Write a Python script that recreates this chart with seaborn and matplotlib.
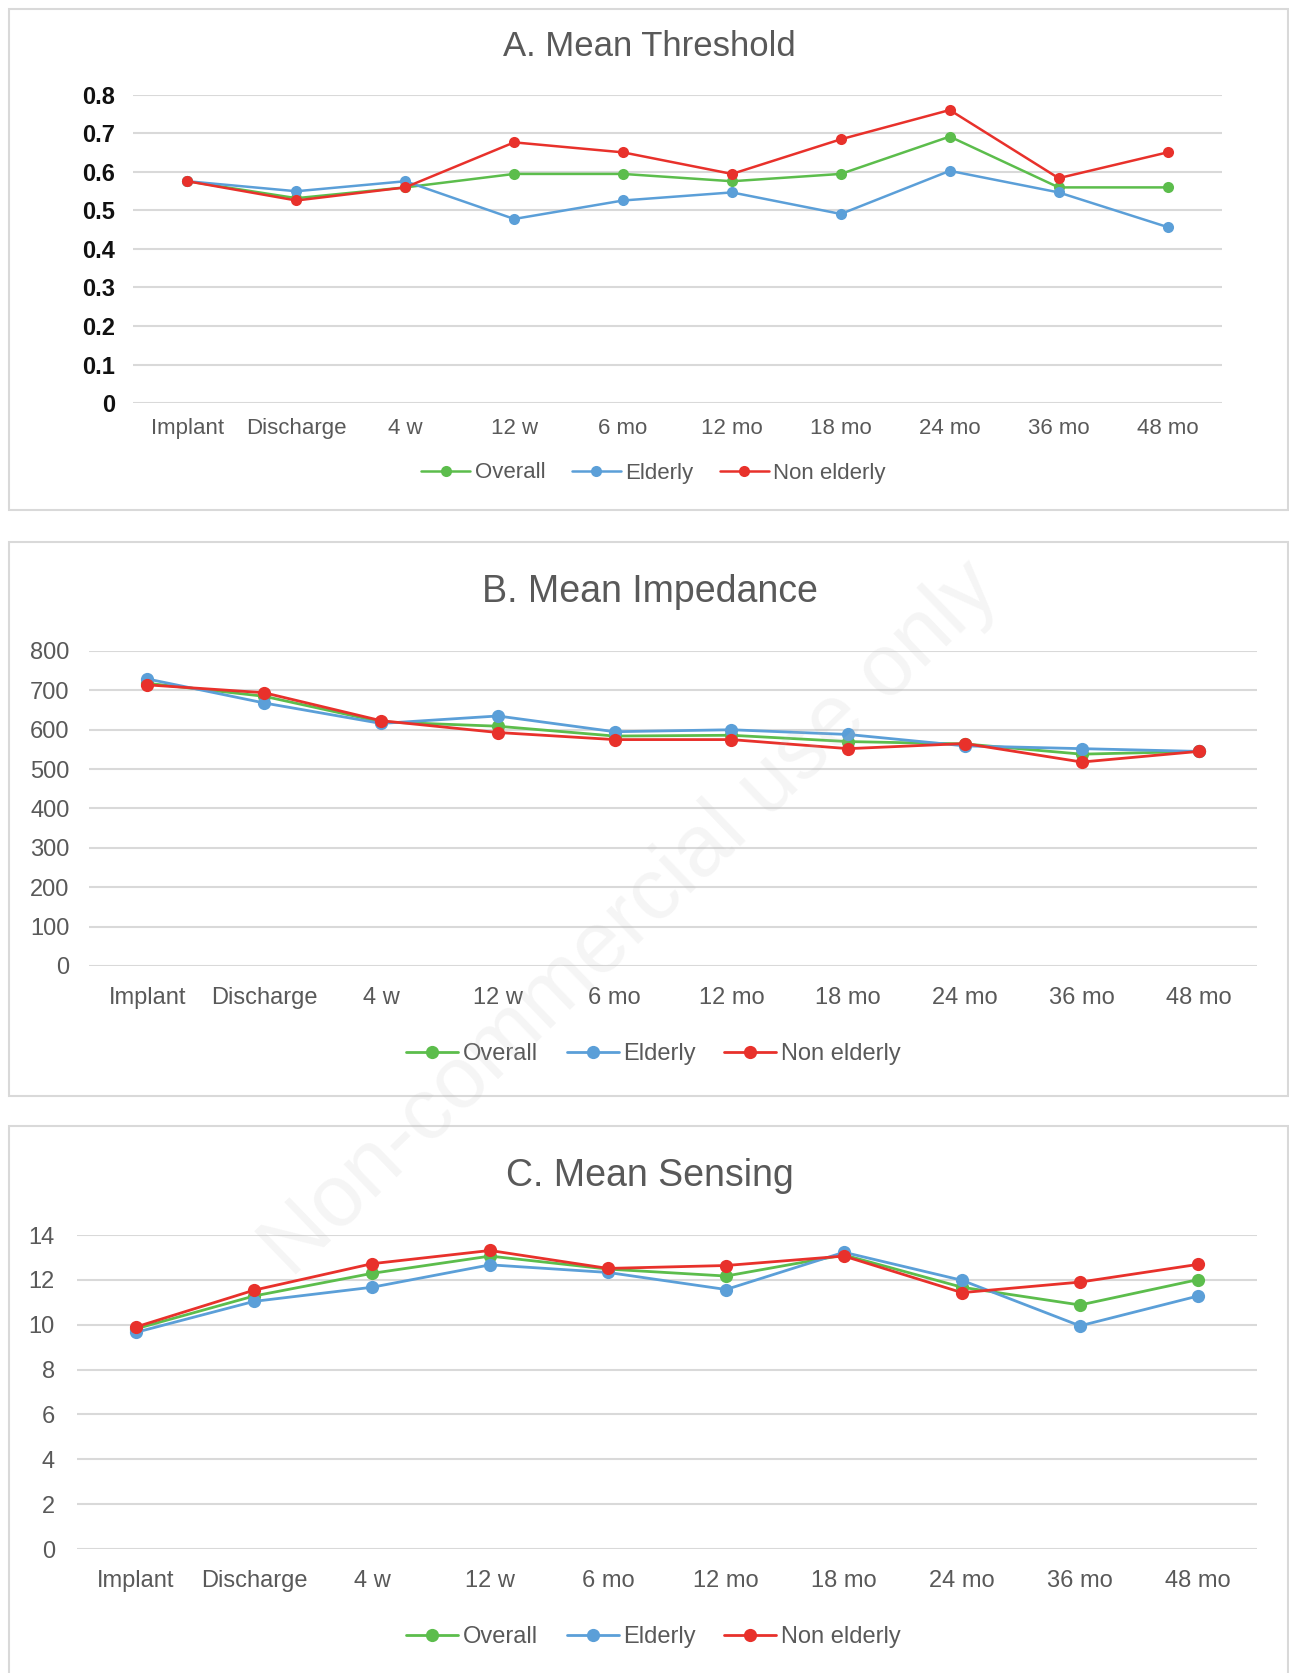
import pandas as pd
import numpy as np
import matplotlib
matplotlib.use("Agg")
import matplotlib.pyplot as plt
import seaborn as sns
from matplotlib.patches import Rectangle

# categories and series
timepoints = ['Implant', 'Discharge', '4 w', '12 w', '6 mo', '12 mo', '18 mo', '24 mo', '36 mo', '48 mo']
groups = ['Overall', 'Elderly', 'Non elderly']

threshold_overall = [0.576, 0.532, 0.560, 0.595, 0.595, 0.576, 0.595, 0.692, 0.560, 0.560]
threshold_elderly = [0.576, 0.550, 0.576, 0.478, 0.526, 0.547, 0.491, 0.603, 0.547, 0.457]
threshold_nonelderly = [0.576, 0.526, 0.560, 0.677, 0.651, 0.595, 0.685, 0.761, 0.584, 0.651]

impedance_overall = [718, 685, 620, 609, 584, 586, 570, 564, 538, 545]
impedance_elderly = [729, 668, 616, 635, 595, 600, 588, 559, 552, 545]
impedance_nonelderly = [714, 694, 623, 593, 575, 575, 552, 565, 518, 545]

sensing_overall = [9.82, 11.28, 12.29, 13.06, 12.48, 12.17, 13.11, 11.67, 10.88, 12.01]
sensing_elderly = [9.66, 11.04, 11.67, 12.67, 12.33, 11.57, 13.23, 11.98, 9.95, 11.28]
sensing_nonelderly = [9.90, 11.54, 12.72, 13.31, 12.51, 12.64, 13.06, 11.43, 11.90, 12.69]

threshold_ticks = [0, 0.1, 0.2, 0.3, 0.4, 0.5, 0.6, 0.7, 0.8]
impedance_ticks = [0, 100, 200, 300, 400, 500, 600, 700, 800]
sensing_ticks = [0, 2, 4, 6, 8, 10, 12, 14]

palette = {'Overall': '#5cbd4c', 'Elderly': '#5b9fd8', 'Non elderly': '#e8312b'}
grid_color = '#d9d9d9'
text_color = '#595959'


def long_df(a, b, c):
    rows = []
    for g, vals in zip(groups, [a, b, c]):
        for t, v in zip(timepoints, vals):
            rows.append({'time': t, 'group': g, 'value': v})
    return pd.DataFrame(rows)


sns.set_theme(style="white")
plt.rcParams['font.family'] = ['Liberation Sans', 'DejaVu Sans']

W, H = 1289, 1673
fig = plt.figure(figsize=(W / 100, H / 100), dpi=100)
fig.patch.set_facecolor('white')

# chart frames (pixel boxes -> figure fractions)
for x0, y0, x1, y1 in [(9, 9, 1288, 510), (9, 542, 1288, 1096), (9, 1126, 1288, 1690)]:
    fig.add_artist(Rectangle((x0 / W, 1 - y1 / H), (x1 - x0) / W, (y1 - y0) / H,
                             transform=fig.transFigure, fill=False,
                             edgecolor='#d9d9d9', linewidth=1.5, zorder=0))

panels = [
    dict(df=long_df(threshold_overall, threshold_elderly, threshold_nonelderly),
         rect=(133, 95, 1222, 403), ticks=threshold_ticks, ylim=(0, 0.8),
         title='A. Mean Threshold', title_y=46, title_fs=25, leg_y=473, ms=8, lw=1.8,
         xfs=16, yfs=17, ybold=True, xpad=11, ypad=13, legfs=16),
    dict(df=long_df(impedance_overall, impedance_elderly, impedance_nonelderly),
         rect=(89, 651, 1257, 966), ticks=impedance_ticks, ylim=(0, 800),
         title='B. Mean Impedance', title_y=592, title_fs=27, leg_y=1054, ms=9.5, lw=2.0,
         xfs=17, yfs=17, ybold=False, xpad=15, ypad=14, legfs=17),
    dict(df=long_df(sensing_overall, sensing_elderly, sensing_nonelderly),
         rect=(77, 1235, 1257, 1549), ticks=sensing_ticks, ylim=(0, 14),
         title='C. Mean Sensing', title_y=1176, title_fs=27, leg_y=1637, ms=9.5, lw=2.0,
         xfs=17, yfs=17, ybold=False, xpad=15, ypad=16, legfs=17),
]

for p in panels:
    x0, y0, x1, y1 = p['rect']
    ax = fig.add_axes([x0 / W, 1 - y1 / H, (x1 - x0) / W, (y1 - y0) / H])
    ax.set_facecolor('none')
    sns.lineplot(data=p['df'], x='time', y='value', hue='group', hue_order=groups,
                 palette=palette, marker='o', markersize=p['ms'], markeredgewidth=0,
                 linewidth=p['lw'], sort=False, ax=ax, zorder=3)
    ax.set_xlim(-0.5, len(timepoints) - 0.5)
    ax.set_ylim(*p['ylim'])
    ax.set_yticks(p['ticks'])
    ax.set_yticklabels([f'{t:g}' for t in p['ticks']])
    ax.yaxis.grid(True, color=grid_color, linewidth=1.5, zorder=0)
    ax.xaxis.grid(False)
    for s in ax.spines.values():
        s.set_visible(False)
    ax.set_xlabel('')
    ax.set_ylabel('')
    ax.tick_params(axis='x', length=0, pad=p['xpad'], labelsize=p['xfs'], labelcolor=text_color)
    ax.tick_params(axis='y', length=0, pad=p['ypad'], labelsize=p['yfs'],
                   labelcolor='#111111' if p['ybold'] else text_color)
    if p['ybold']:
        for lab in ax.get_yticklabels():
            lab.set_fontweight('bold')
    handles, labels = ax.get_legend_handles_labels()
    ax.legend_.remove()
    fig.legend(handles, labels, loc='center', bbox_to_anchor=(0.507, 1 - p['leg_y'] / H),
               ncol=3, frameon=False, fontsize=p['legfs'], handlelength=2.2,
               handletextpad=0.2, columnspacing=1.2, labelcolor=text_color)
    fig.text(0.504, 1 - p['title_y'] / H, p['title'], ha='center', va='center',
             fontsize=p['title_fs'], color=text_color)

# faint diagonal watermark
fig.text(0.49, 0.45, 'Non-commercial use only', ha='center', va='center', rotation=44,
         fontsize=63, color='#bbbbbb', alpha=0.15, zorder=10)

fig.savefig('out.png', dpi=100)
